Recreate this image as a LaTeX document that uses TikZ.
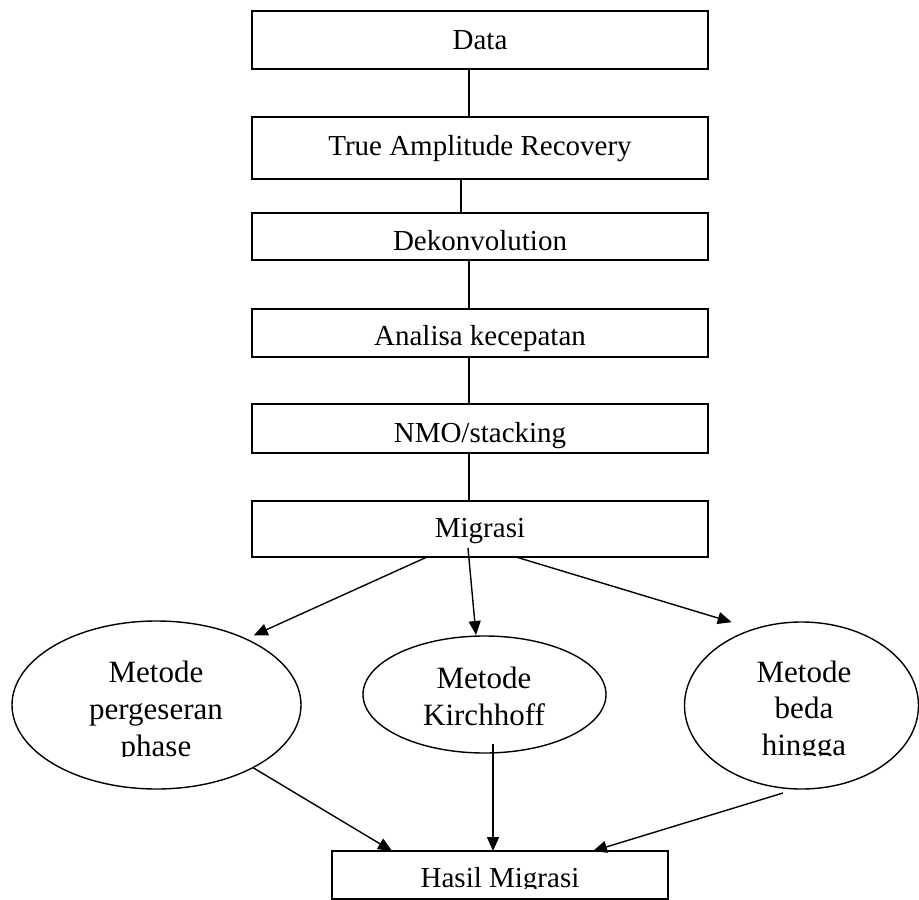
\documentclass[tikz,border=0pt]{standalone}
\usepackage{fontspec}
\setmainfont{Liberation Serif}
\usetikzlibrary{arrows.meta,shapes.geometric}
\begin{document}
\begin{tikzpicture}[x=1pt,y=-1pt,
  box/.style={draw,line width=1.6pt,rectangle,inner sep=0pt,outer sep=0pt,minimum width=456pt},
  oval/.style={draw,line width=1.4pt,ellipse,inner sep=0pt,outer sep=0pt},
  btxt/.style={anchor=base,inner sep=0pt,font=\fontsize{29}{35}\selectfont},
  etxt/.style={anchor=base,inner sep=0pt,font=\fontsize{31}{37}\selectfont},
  link/.style={line width=1.4pt},
  arr/.style={line width=1.4pt,-{Triangle[length=14pt,width=12pt]}}]
\useasboundingbox (0,0) rectangle (919,900);
\fill[white] (0,0) rectangle (919,900);

% boxes
\node[box,minimum height=58pt] (data) at (480,40) {};
\node[box,minimum height=62pt] (tar) at (480,148) {};
\node[box,minimum height=47pt] (dek) at (480,236.5) {};
\node[box,minimum height=48pt] (ana) at (480,333) {};
\node[box,minimum height=49pt] (nmo) at (480,428.5) {};
\node[box,minimum height=56pt] (mig) at (480,529) {};
\node[box,minimum width=336pt,minimum height=48pt] (hasil) at (500,875) {};

% box texts
\node[btxt] (tdata) at (480,49) {Data};
\node[btxt] (ttar) at (480,155) {True Amplitude Recovery};
\node[btxt] (tdek) at (480,250) {Dekonvolution};
\begin{scope}
  \clip (253,310) rectangle (707,356);
  \node[btxt] (tana) at (480,345) {Analisa kecepatan};
\end{scope}
\begin{scope}
  \clip (253,405) rectangle (707,452);
  \node[btxt] (tnmo) at (480,442) {NMO/stacking};
\end{scope}
\node[btxt] (tmig) at (480,537) {Migrasi};
\begin{scope}
  \clip (333,852) rectangle (667,888);
  \node[btxt] (thasil) at (500,887) {Hasil Migrasi};
\end{scope}

% ellipses
\node[oval,minimum width=289pt,minimum height=168pt] (pe) at (156.5,705) {};
\node[oval,minimum width=243pt,minimum height=117pt] (ke) at (484.5,694.5) {};
\node[oval,minimum width=234pt,minimum height=167pt] (be) at (801.5,705.5) {};

% ellipse texts
\begin{scope}
  \clip (40,640) rectangle (280,756);
  \node[etxt] (pe1) at (156,682) {Metode};
  \node[etxt] (pe2) at (156,719) {pergeseran};
  \node[etxt] (pe3) at (156,756) {phase};
\end{scope}
\node[etxt] (ke1) at (484,688) {Metode};
\node[etxt] (ke2) at (484,725) {Kirchhoff};
\begin{scope}
  \clip (700,640) rectangle (910,755);
  \node[etxt] (be1) at (804,682) {Metode};
  \node[etxt] (be2) at (804,718) {beda};
  \node[etxt] (be3) at (804,755) {hingga};
\end{scope}

% vertical links
\draw[link] ([xshift=-11pt]data.south) -- ([xshift=-11pt]tar.north);
\draw[link] ([xshift=-19pt]tar.south) -- ([xshift=-19pt]dek.north);
\draw[link] ([xshift=-11pt]dek.south) -- ([xshift=-11pt]ana.north);
\draw[link] ([xshift=-11pt]ana.south) -- ([xshift=-11pt]nmo.north);
\draw[link] ([xshift=-11pt]nmo.south) -- ([xshift=-11pt]mig.north);

% arrows from Migrasi
\draw[arr] ([xshift=-53pt]mig.south) -- ([shift={(7pt,4pt)}]pe.36);
\draw[arr] ([shift={(-12pt,9pt)}]mig.south) -- ([shift={(-8.5pt,1pt)}]ke.north);
\draw[arr] ([xshift=36pt]mig.south) -- ([shift={(-9.7pt,11.7pt)}]be.130);

% arrows to Hasil
\draw[arr] (pe.-33) -- ([xshift=-108pt]hasil.north);
\draw[arr] ([shift={(8.5pt,9pt)}]ke.south) -- ([xshift=-7pt]hasil.north);
\draw[arr] ([shift={(-18.5pt,-4pt)}]be.south) -- ([xshift=93pt]hasil.north);
\end{tikzpicture}
\end{document}
